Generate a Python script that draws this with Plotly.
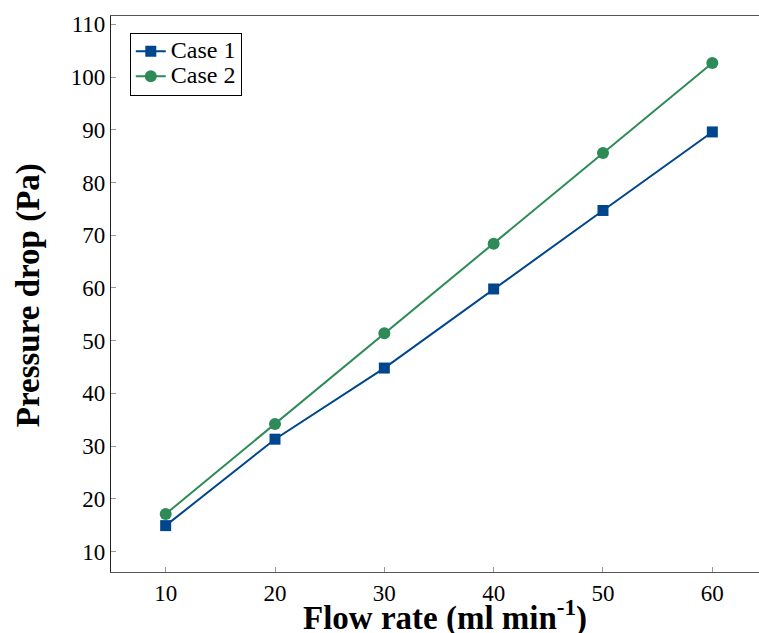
import plotly.graph_objects as go

flow_rate = [10, 20, 30, 40, 50, 60]
case1 = [14.9, 31.3, 44.8, 59.8, 74.7, 89.6]
case2 = [17.1, 34.2, 51.4, 68.4, 85.6, 102.7]
series_names = ["Case 1", "Case 2"]
x_ticks = [10, 20, 30, 40, 50, 60]
y_ticks = [10, 20, 30, 40, 50, 60, 70, 80, 90, 100, 110]

font_family = "Liberation Serif, DejaVu Serif, serif"


def legend_label(name):
    return f"<span style='font-size:24px'>{name}</span>"


fig = go.Figure()
fig.add_trace(go.Scatter(
    x=flow_rate, y=case1, name=legend_label(series_names[0]), mode="lines+markers",
    line=dict(color="#00468C", width=2),
    marker=dict(symbol="square", size=11, color="#00468C"),
))
fig.add_trace(go.Scatter(
    x=flow_rate, y=case2, name=legend_label(series_names[1]), mode="lines+markers",
    line=dict(color="#2E8B57", width=2),
    marker=dict(symbol="circle", size=12, color="#2E8B57"),
))

fig.update_layout(
    width=759, height=633,
    margin=dict(l=111, r=0, t=16, b=61),
    plot_bgcolor="white", paper_bgcolor="white",
    font=dict(family=font_family, size=23, color="black"),
    showlegend=True,
    legend=dict(
        x=0.029, y=0.97, xanchor="left", yanchor="top",
        bordercolor="black", borderwidth=1, bgcolor="white",
        font=dict(size=17, family=font_family),
        tracegroupgap=0, itemwidth=30,
    ),
    xaxis=dict(
        range=[5, 64.27], tickvals=x_ticks,
        showline=True, linecolor="#555", linewidth=1.2, mirror=True,
        ticks="inside", ticklen=5, tickcolor="#999",
        showgrid=False, zeroline=False, tickfont=dict(size=23),
    ),
    yaxis=dict(
        range=[6.1, 111.6], tickvals=y_ticks,
        showline=True, linecolor="#222", linewidth=1.2, mirror=False,
        ticks="inside", ticklen=5, tickcolor="#999",
        showgrid=False, zeroline=False, tickfont=dict(size=23),
    ),
    annotations=[
        dict(text="<b>Flow rate (ml min<sup>-1</sup>)</b>", xref="paper", yref="paper",
             x=0.515, y=-0.1115, xanchor="center", yanchor="bottom", yshift=-5,
             showarrow=False, font=dict(size=33, family=font_family)),
        dict(text="<b>Pressure drop (Pa)</b>", xref="paper", yref="paper",
             x=-0.128, y=0.498, xanchor="center", yanchor="middle", showarrow=False,
             textangle=-90, font=dict(size=33, family=font_family)),
    ],
)

fig.write_html("out.html")
